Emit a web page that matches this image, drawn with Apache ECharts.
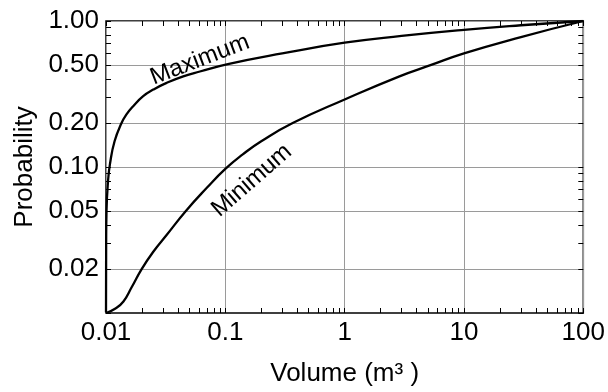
<!DOCTYPE html>
<html>
<head>
<meta charset="utf-8">
<script src="https://cdn.jsdelivr.net/npm/echarts@6/dist/echarts.min.js"></script>
<style>html,body{margin:0;padding:0;background:#fff;}#c{width:608px;height:392px;}</style>
</head>
<body>
<div id="c"></div>
<script>
// Data (x: volume m^3, y: probability)
var maxX = [0.01, 0.01003, 0.0101, 0.0104, 0.0108, 0.0118, 0.0135, 0.0149, 0.0169, 0.0205, 0.0249, 0.0322, 0.0444, 0.0612, 0.105, 0.3, 1, 3, 10, 30, 100];
var maxY = [0.0101, 0.03, 0.05, 0.08, 0.105, 0.15, 0.2, 0.23, 0.261, 0.306, 0.339, 0.377, 0.418, 0.451, 0.507, 0.6, 0.71, 0.79, 0.87, 0.935, 1.0];
var minX = [0.01, 0.0119, 0.014, 0.0164, 0.0199, 0.025, 0.0322, 0.0467, 0.07, 0.1, 0.14, 0.2, 0.367, 1, 2.88, 5.31, 10, 30, 100];
var minY = [0.01, 0.0107, 0.012, 0.015, 0.02, 0.0264, 0.0342, 0.05, 0.072, 0.097, 0.122, 0.15, 0.2, 0.29, 0.418, 0.5, 0.6, 0.776, 1.0];
var xTickLabels = ['0.01', '0.1', '1', '10', '100'];
var xTickValues = [0.01, 0.1, 1, 10, 100];
var yTickValues = [0.02, 0.05, 0.1, 0.2, 0.5, 1];
var yTickLabels = ['0.02', '0.05', '0.10', '0.20', '0.50', '1.00'];
var xMinor = [];
[0.01, 0.1, 1, 10].forEach(function (d) { for (var k = 1; k <= 9; k++) xMinor.push(+(d * k).toPrecision(3)); });
xMinor.push(100);
var yMinor = [];
[0.01, 0.1].forEach(function (d) { for (var k = 1; k <= 9; k++) yMinor.push(+(d * k).toPrecision(3)); });
yMinor.push(1);
var labelMax = {name: 'Maximum', x: 0.0612, y: 0.542, rot: 21};
var labelMin = {name: 'Minimum', x: 0.1667, y: 0.0807, rot: 41};

function pairs(xs, ys) { return xs.map(function (x, i) { return [x, ys[i]]; }); }

var FONT = 'Liberation Sans, Arial, sans-serif';
var black = '#000';
var grey = '#9a9a9a';

function xAx(pos, opts) {
  return Object.assign({
    type: 'log', logBase: 10, min: 0.01, max: 100, position: pos,
    axisLine: {show: false}, axisTick: {show: false}, axisLabel: {show: false},
    splitLine: {show: false}
  }, opts);
}
function yAx(pos, opts) {
  return Object.assign({
    type: 'log', logBase: 10, min: 0.01, max: 1, position: pos,
    axisLine: {show: false}, axisTick: {show: false}, axisLabel: {show: false},
    splitLine: {show: false}
  }, opts);
}

var chart = echarts.init(document.getElementById('c'), null, {renderer: 'canvas'});
chart.setOption({
  animation: false,
  backgroundColor: '#fff',
  grid: {left: 106, right: 24, top: 21, bottom: 77, show: true, borderColor: black, borderWidth: 1.5, backgroundColor: 'transparent'},
  xAxis: [
    xAx('bottom', {
      name: 'Volume (m³ )', nameLocation: 'middle', nameGap: 48,
      nameTextStyle: {fontFamily: FONT, fontSize: 26, color: black},
      axisLabel: {show: true, fontFamily: FONT, fontSize: 26, color: black, margin: 7,
        formatter: function (v) { var i = xTickValues.findIndex(function (t) { return Math.abs(Math.log10(t) - Math.log10(v)) < 1e-6; }); return i >= 0 ? xTickLabels[i] : ''; }},
      splitLine: {show: true, lineStyle: {color: grey, width: 1}}
    }),
    xAx('bottom', {axisTick: {show: true, inside: true, length: 5, lineStyle: {color: black, width: 1}, customValues: xMinor}}),
    xAx('top', {axisTick: {show: true, inside: true, length: 5, lineStyle: {color: black, width: 1}, customValues: xMinor}})
  ],
  yAxis: [
    yAx('left', {
      name: 'Probability', nameLocation: 'middle', nameGap: 68,
      nameTextStyle: {fontFamily: FONT, fontSize: 26, color: black},
      axisTick: {show: false, customValues: yTickValues},
      axisLabel: {show: true, fontFamily: FONT, fontSize: 26, color: black, margin: 7, customValues: yTickValues,
        formatter: function (v) { var i = yTickValues.findIndex(function (t) { return Math.abs(Math.log10(t) - Math.log10(v)) < 1e-6; }); return i >= 0 ? yTickLabels[i] : ''; }},
      splitLine: {show: true, lineStyle: {color: grey, width: 1}}
    }),
    yAx('left', {axisTick: {show: true, inside: true, length: 5, lineStyle: {color: black, width: 1}, customValues: yMinor}}),
    yAx('right', {axisTick: {show: true, inside: true, length: 5, lineStyle: {color: black, width: 1}, customValues: yMinor}})
  ],
  series: [
    {
      type: 'line', name: 'Maximum', data: pairs(maxX, maxY), showSymbol: false, symbol: 'none',
      smooth: 0.5, lineStyle: {color: black, width: 2.3}, z: 5,
      markPoint: {symbol: 'circle', symbolSize: 0, silent: true,
        label: {show: true, formatter: labelMax.name, rotate: labelMax.rot, fontFamily: FONT, fontSize: 24, color: black, position: 'inside'},
        data: [{coord: [labelMax.x, labelMax.y]}]}
    },
    {
      type: 'line', name: 'Minimum', data: pairs(minX, minY), showSymbol: false, symbol: 'none',
      smooth: 0.5, lineStyle: {color: black, width: 2.3}, z: 5,
      markPoint: {symbol: 'circle', symbolSize: 0, silent: true,
        label: {show: true, formatter: labelMin.name, rotate: labelMin.rot, fontFamily: FONT, fontSize: 24, color: black, position: 'inside'},
        data: [{coord: [labelMin.x, labelMin.y]}]}
    }
  ]
});
</script>
</body>
</html>
